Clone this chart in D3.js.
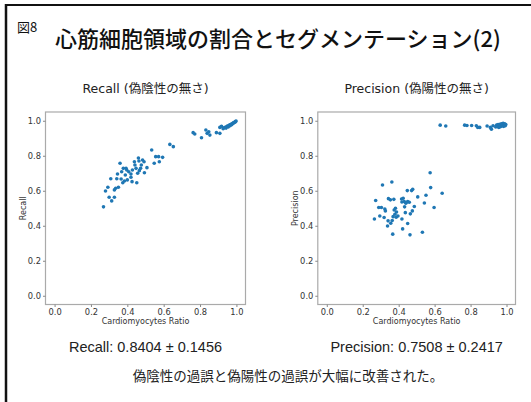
<!DOCTYPE html>
<html>
<head>
<meta charset="utf-8">
<script src="https://cdn.jsdelivr.net/npm/d3@7"></script>
<style>
  body { margin: 0; background: #fff; }
  svg { display: block; }
</style>
</head>
<body>
<svg id="chart" width="531" height="402"></svg>
<script>
// recall panel: cardiomyocytes ratio vs recall
var recallRatio = [0.269, 0.28, 0.293, 0.30, 0.314, 0.309, 0.329, 0.329, 0.336, 0.342, 0.351, 0.346, 0.36, 0.369, 0.366, 0.375, 0.378, 0.384, 0.389, 0.397, 0.40, 0.393, 0.408, 0.42, 0.42, 0.426, 0.428, 0.439, 0.442, 0.448, 0.452, 0.457, 0.461, 0.464, 0.466, 0.473, 0.477, 0.484, 0.492, 0.494, 0.508, 0.534, 0.548, 0.556, 0.572, 0.576, 0.594, 0.634, 0.653, 0.762, 0.771, 0.808, 0.832, 0.839, 0.848, 0.854, 0.89, 0.909, 0.909, 0.918, 0.927, 0.932, 0.938, 0.943, 0.947, 0.951, 0.955, 0.958, 0.962, 0.965, 0.968, 0.971, 0.974, 0.977, 0.98, 0.983, 0.986, 0.989, 0.992, 0.995, 0.998]
var recallValue = [0.508, 0.599, 0.62, 0.563, 0.542, 0.669, 0.563, 0.605, 0.614, 0.669, 0.62, 0.696, 0.757, 0.709, 0.667, 0.646, 0.728, 0.656, 0.69, 0.719, 0.662, 0.728, 0.709, 0.696, 0.677, 0.652, 0.719, 0.766, 0.747, 0.728, 0.646, 0.70, 0.787, 0.77, 0.715, 0.728, 0.747, 0.776, 0.766, 0.703, 0.732, 0.833, 0.757, 0.795, 0.795, 0.766, 0.791, 0.865, 0.852, 0.932, 0.924, 0.903, 0.947, 0.928, 0.937, 0.918, 0.932, 0.928, 0.962, 0.969, 0.955, 0.96, 0.963, 0.958, 0.967, 0.97, 0.965, 0.972, 0.975, 0.971, 0.978, 0.98, 0.977, 0.983, 0.985, 0.987, 0.989, 0.991, 0.993, 0.995, 0.998]

// precision panel: cardiomyocytes ratio vs precision
var precisionRatio = [0.265, 0.272, 0.289, 0.295, 0.304, 0.31, 0.319, 0.323, 0.326, 0.338, 0.341, 0.343, 0.354, 0.356, 0.362, 0.364, 0.367, 0.369, 0.373, 0.375, 0.379, 0.382, 0.386, 0.388, 0.396, 0.416, 0.418, 0.418, 0.422, 0.425, 0.431, 0.433, 0.437, 0.44, 0.448, 0.45, 0.45, 0.459, 0.463, 0.465, 0.472, 0.478, 0.476, 0.487, 0.506, 0.532, 0.543, 0.552, 0.575, 0.578, 0.597, 0.642, 0.631, 0.662, 0.767, 0.78, 0.806, 0.832, 0.84, 0.851, 0.892, 0.91, 0.916, 0.925, 0.94, 0.945, 0.95, 0.953, 0.957, 0.96, 0.963, 0.966, 0.969, 0.972, 0.975, 0.978, 0.981, 0.984, 0.987, 0.99, 0.993, 0.996]
var precisionValue = [0.439, 0.544, 0.504, 0.456, 0.504, 0.633, 0.447, 0.496, 0.485, 0.399, 0.428, 0.555, 0.548, 0.414, 0.65, 0.43, 0.352, 0.452, 0.551, 0.49, 0.466, 0.50, 0.449, 0.479, 0.456, 0.553, 0.536, 0.439, 0.382, 0.557, 0.538, 0.508, 0.475, 0.529, 0.601, 0.538, 0.413, 0.534, 0.348, 0.468, 0.601, 0.608, 0.485, 0.51, 0.565, 0.363, 0.53, 0.574, 0.703, 0.618, 0.504, 0.586, 0.975, 0.97, 0.975, 0.973, 0.973, 0.971, 0.962, 0.962, 0.97, 0.962, 0.952, 0.971, 0.965, 0.975, 0.968, 0.978, 0.962, 0.972, 0.98, 0.966, 0.975, 0.983, 0.97, 0.978, 0.985, 0.968, 0.976, 0.982, 0.972, 0.979]

var tickValues = [0.0, 0.2, 0.4, 0.6, 0.8, 1.0]

var panels = [
  { title: 'Recall (偽陰性の無さ)', ylabel: 'Recall', xs: recallRatio, ys: recallValue,
    summary: 'Recall: 0.8404 ± 0.1456', left: 45.5, right: 245.5 },
  { title: 'Precision (偽陽性の無さ)', ylabel: 'Precision', xs: precisionRatio, ys: precisionValue,
    summary: 'Precision: 0.7508 ± 0.2417', left: 317.8, right: 515.5 }
]

var svg = d3.select('#chart')
var cjk = '"Noto Sans CJK JP", "Noto Sans", sans-serif'
var mpl = '"DejaVu Sans", sans-serif'

/** slide frame */
svg.append('rect').attr('width', 531).attr('height', 402).attr('fill', '#fff')
svg.append('line').attr('x1', 5).attr('y1', 5).attr('x2', 531).attr('y2', 5).attr('stroke', '#111').attr('stroke-width', 2)
svg.append('line').attr('x1', 6).attr('y1', 4).attr('x2', 6).attr('y2', 402).attr('stroke', '#111').attr('stroke-width', 2.5)

/** headings */
svg.append('text').attr('x', 17).attr('y', 32).style('font-family', cjk).style('font-size', '13px').attr('fill', '#111').text('図8')
svg.append('text').attr('x', 55).attr('y', 47).style('font-family', cjk).style('font-size', '22px').style('font-weight', 500).attr('fill', '#111').text('心筋細胞領域の割合とセグメンテーション(2)')

var plotTop = 112, plotBottom = 304.5

panels.forEach(function (p) {
  var x = d3.scaleLinear().domain([-0.05, 1.05]).range([p.left, p.right])
  var y = d3.scaleLinear().domain([-0.05, 1.05]).range([plotBottom, plotTop])
  var cx = (p.left + p.right) / 2

  svg.append('text').attr('x', cx).attr('y', 93).attr('text-anchor', 'middle')
    .style('font-family', '"DejaVu Sans", "Noto Sans CJK JP", sans-serif').style('font-size', '12.5px').attr('fill', '#222').text(p.title)

  var g = svg.append('g')
  g.append('rect').attr('x', p.left).attr('y', plotTop).attr('width', p.right - p.left).attr('height', plotBottom - plotTop)
    .attr('fill', 'none').attr('stroke', '#aaa').attr('stroke-width', 1.2)

  var xAxis = g.append('g').attr('transform', 'translate(0,' + plotBottom + ')')
    .call(d3.axisBottom(x).tickValues(tickValues).tickFormat(d3.format('.1f')).tickSize(2.5).tickPadding(2))
  var yAxis = g.append('g').attr('transform', 'translate(' + p.left + ',0)')
    .call(d3.axisLeft(y).tickValues(tickValues).tickFormat(d3.format('.1f')).tickSize(2.5).tickPadding(2))
  ;[xAxis, yAxis].forEach(function (a) {
    a.select('.domain').remove()
    a.selectAll('line').attr('stroke', '#888')
    a.selectAll('text').style('font-family', mpl).style('font-size', '8.3px').attr('fill', '#333')
  })

  svg.append('text').attr('x', cx).attr('y', 324).attr('text-anchor', 'middle')
    .style('font-family', mpl).style('font-size', '8px').attr('fill', '#333').text('Cardiomyocytes Ratio')
  svg.append('text').attr('transform', 'translate(' + (p.left - 20) + ',' + ((plotTop + plotBottom) / 2) + ') rotate(-90)')
    .attr('text-anchor', 'middle').style('font-family', mpl).style('font-size', '8px').attr('fill', '#333').text(p.ylabel)

  g.selectAll('circle.pt').data(d3.zip(p.xs, p.ys)).enter().append('circle').attr('class', 'pt')
    .attr('cx', function (d) { return x(d[0]) }).attr('cy', function (d) { return y(d[1]) })
    .attr('r', 1.8).attr('fill', '#1f77b4')

  svg.append('text').attr('x', cx).attr('y', 352).attr('text-anchor', 'middle')
    .style('font-family', '"Liberation Sans", Arial, sans-serif').style('font-size', '14.5px').attr('fill', '#222').text(p.summary)
})

svg.append('text').attr('x', 288).attr('y', 381).attr('text-anchor', 'middle')
  .style('font-family', cjk).style('font-size', '13.5px').attr('fill', '#222').text('偽陰性の過誤と偽陽性の過誤が大幅に改善された。')
</script>
</body>
</html>
